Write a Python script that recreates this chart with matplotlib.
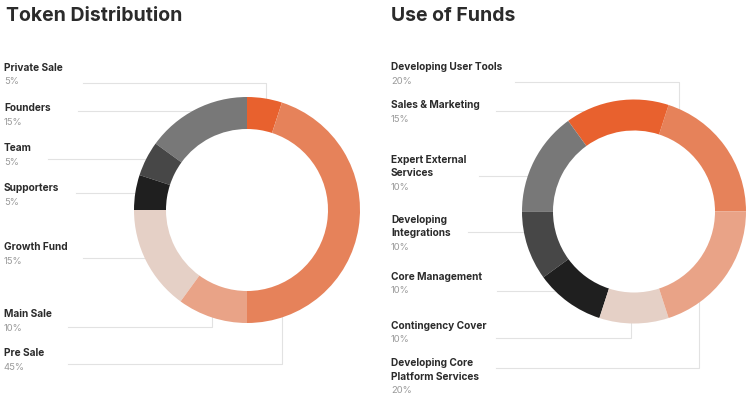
import matplotlib as mpl
mpl.use('Agg')
import numpy as np
import matplotlib.pyplot as plt

plt.rcParams['font.family'] = ['Inter', 'DejaVu Sans']

W, H = 754, 398

# ---- data ----
token_labels = ['Private Sale', 'Founders', 'Team', 'Supporters', 'Growth Fund', 'Main Sale', 'Pre Sale']
token_pct_text = ['5%', '15%', '5%', '5%', '15%', '10%', '45%']
token_values = [5, 15, 5, 5, 15, 10, 45]

funds_labels = ['Developing User Tools', 'Sales & Marketing', 'Expert External\nServices',
                'Developing\nIntegrations', 'Core Management', 'Contingency Cover',
                'Developing Core\nPlatform Services']
funds_pct_text = ['20%', '15%', '10%', '10%', '10%', '10%', '20%']
# slice sizes as drawn in the picture
funds_values = [20, 15, 15, 10, 10, 10, 20]

# ---- style ----
DK_OR = '#e8612e'
OR = '#e6825a'
SAL = '#e9a387'
PALE = '#e5d0c6'
BLK = '#1f1f1f'
DGR = '#474747'
GR = '#787878'
token_colors = [DK_OR, GR, DGR, BLK, PALE, SAL, OR]
funds_colors = [OR, DK_OR, GR, DGR, BLK, PALE, SAL]

TXT = '#2b2b2b'
PCT = '#9a9a9a'
LINE = '#e2e2e2'
LH = 13.3  # line height of wrapped labels (px)

# label layout: baseline of first name line, where the leader line starts,
# leader line y, and x of the vertical drop (None = straight into the ring)
token_base = [70.7, 111, 151.4, 191.4, 250.4, 317, 356.4]
token_lx0 = [82.7, 78, 48, 76, 83, 68, 68]
token_ly = [83.3, 110.7, 159.3, 193.3, 258.3, 326.7, 364]
token_drop = [265.7, None, None, None, None, 212.3, 282.3]

funds_base = [70.4, 108, 162.7, 222.7, 279.7, 328.7, 366.4]
funds_lx0 = [515.3, 496, 478.7, 467.7, 497, 496, 496]
funds_ly = [81.7, 111, 175.7, 232.3, 290.7, 338.3, 368.3]
funds_drop = [678.7, None, None, None, None, 631.3, 698.7]

fig = plt.figure(figsize=(W / 100, H / 100), dpi=100)
bg = fig.add_axes([0, 0, 1, 1])
bg.set_xlim(0, W)
bg.set_ylim(H, 0)
bg.axis('off')


def donut(cx, cy, r, r_in, values, colors, start, ccw):
    ax = fig.add_axes([(cx - r) / W, (H - cy - r) / H, 2 * r / W, 2 * r / H])
    ax.pie(values, colors=colors, startangle=start, counterclock=ccw, radius=1,
           wedgeprops=dict(width=(r - r_in) / r, linewidth=0))
    ax.set_xlim(-1, 1)
    ax.set_ylim(-1, 1)
    ax.set_aspect('auto')
    ax.axis('off')


def labels(x, names, pcts, base, lx0, ly, drop, cx, cy, r):
    for name, pct, b, x0, y, xv in zip(names, pcts, base, lx0, ly, drop):
        lines = name.split('\n')
        for i, ln in enumerate(lines):
            bg.text(x, b + i * LH, ln, fontsize=7.3, fontweight='bold', color=TXT, va='baseline')
        bg.text(x, b + (len(lines) - 1) * LH + 13.7, pct, fontsize=6.8, color=PCT, va='baseline')
        if xv is None:
            xe = cx - np.sqrt(r ** 2 - (y - cy) ** 2) + 6
            bg.plot([x0, xe], [y, y], color=LINE, lw=0.8)
        else:
            sgn = -1 if y < cy else 1
            ye = cy + sgn * (np.sqrt(r ** 2 - (xv - cx) ** 2) - 6)
            bg.plot([x0, xv, xv], [y, y, ye], color=LINE, lw=0.8)


# left: Token Distribution
bg.text(6, 20.7, 'Token Distribution', fontsize=14, fontweight='bold', color=TXT, va='baseline')
labels(4, token_labels, token_pct_text, token_base, token_lx0, token_ly, token_drop, 247, 210, 113)
donut(247, 210, 113, 81, token_values, token_colors, 72, True)

# right: Use of Funds
bg.text(391, 20.7, 'Use of Funds', fontsize=14, fontweight='bold', color=TXT, va='baseline')
labels(391, funds_labels, funds_pct_text, funds_base, funds_lx0, funds_ly, funds_drop, 634, 211.5, 112)
donut(634, 211.5, 112, 81, funds_values, funds_colors, 0, True)

plt.savefig('out.png', dpi=100)
plt.close(fig)
